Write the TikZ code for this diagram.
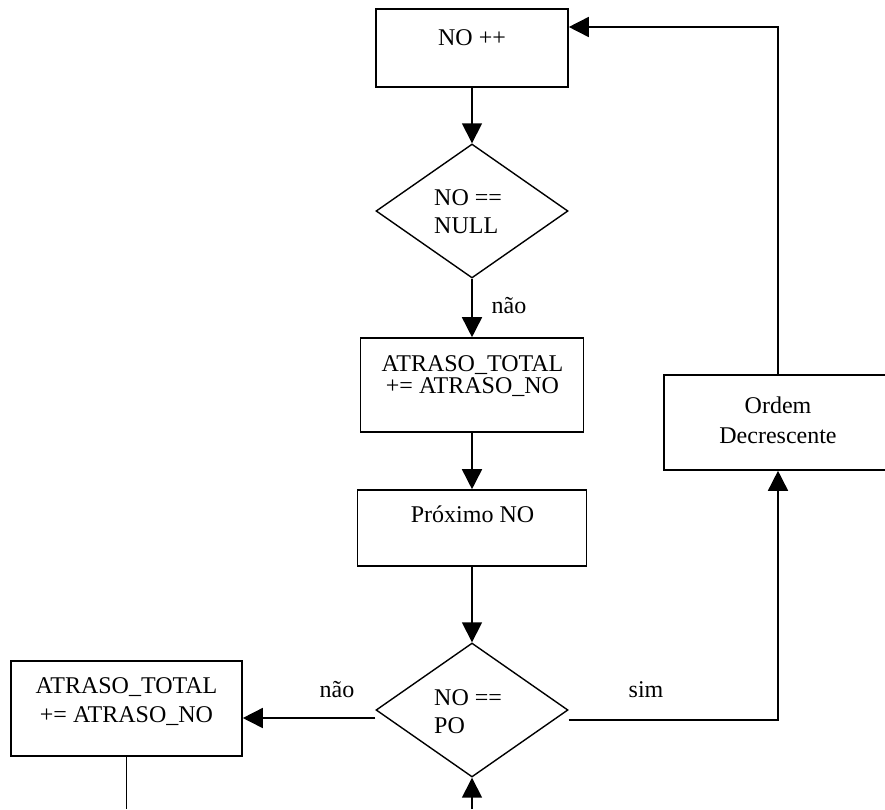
\documentclass[tikz,border=0pt]{standalone}
\usepackage{fontspec}
\setmainfont{Liberation Serif}
\usetikzlibrary{arrows.meta,shapes.geometric}
\tikzset{
  box/.style={draw, line width=1.6pt, rectangle, inner sep=0pt},
  dia/.style={draw, line width=1.4pt, diamond, inner sep=0pt},
  txt/.style={font=\fontsize{24}{28}\selectfont, inner sep=0pt, anchor=base},
  ltxt/.style={txt, anchor=base west},
  conn/.style={line width=1.6pt},
  arr/.style={conn, -{Triangle[length=20pt,width=20pt]}},
}
\begin{document}
\begin{tikzpicture}[x=1pt,y=-1pt]
\useasboundingbox (0,0) rectangle (885,809);
% boxes
\node[box, minimum width=192pt, minimum height=78pt] (inc) at (472,48) {};
\node[txt] (tinc) at (472,45) {NO ++};

\node[dia, minimum width=192pt, minimum height=134pt] (d1) at (472,211) {};
\node[ltxt] (td1a) at (434,205) {NO ==};
\node[ltxt] (td1b) at (434,233) {NULL};

\node[box, minimum width=223pt, minimum height=94pt] (acc1) at (472,385) {};
\node[txt] (tacc1a) at (472.5,371) {ATRASO\_TOTAL};
\node[txt] (tacc1b) at (472.5,393) {+= ATRASO\_NO};

\node[box, minimum width=229pt, minimum height=76pt] (next) at (472,528) {};
\node[txt] (tnext) at (472.5,522) {Próximo NO};

\node[dia, minimum width=192pt, minimum height=134pt] (d2) at (472,710) {};
\node[ltxt] (td2a) at (434,705) {NO ==};
\node[ltxt] (td2b) at (434,733) {PO};

\node[box, minimum width=231pt, minimum height=95pt] (acc2) at (126.5,708.5) {};
\node[txt] (tacc2a) at (126.5,693) {ATRASO\_TOTAL};
\node[txt] (tacc2b) at (126.5,722) {+= ATRASO\_NO};

\node[box, minimum width=228pt, minimum height=95pt] (ord) at (778,422.5) {};
\node[txt] (tord1) at (778,413) {Ordem};
\node[txt] (tord2) at (778,443) {Decrescente};

% labels
\node[txt] (lnao1) at (509,313) {não};
\node[txt] (lnao2) at (337,697) {não};
\node[txt] (lsim) at (646,697) {sim};

% connectors
\coordinate (ctop) at (778,27);
\coordinate (bot) at (472,809);
\coordinate (lbot) at (126.5,809);
\draw[arr] (ord.north) -- (ctop) -- (inc.east |- ctop);
\draw[arr] (inc.south) -- (d1.north);
\draw[arr] (d1.south) -- (acc1.north);
\draw[arr] (acc1.south) -- (next.north);
\draw[arr] (next.south) -- (d2.north);
\draw[arr] ([yshift=-8pt]d2.west) -- ([yshift=-8pt]d2.west -| acc2.east);
\draw[arr] ([yshift=-10pt]d2.east) -- ([yshift=-10pt]d2.east -| ord.south) -- (ord.south);
\draw[arr] (bot) -- (d2.south);
\draw[conn] (acc2.south) -- (lbot);
\end{tikzpicture}
\end{document}
